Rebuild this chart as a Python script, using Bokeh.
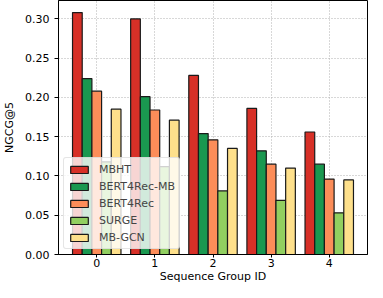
from bokeh.plotting import figure
from bokeh.models import ColumnDataSource, Range1d, Legend, LegendItem, FixedTicker, CustomJSTickFormatter
from bokeh.transform import dodge
from bokeh.embed import file_html
from bokeh.resources import INLINE

groups = [0, 1, 2, 3, 4]
series_names = ["MBHT", "BERT4Rec-MB", "BERT4Rec", "SURGE", "MB-GCN"]
mbht = [0.308, 0.300, 0.228, 0.186, 0.156]
bert4rec_mb = [0.224, 0.201, 0.154, 0.132, 0.115]
bert4rec = [0.208, 0.184, 0.146, 0.115, 0.096]
surge = [0.118, 0.112, 0.081, 0.069, 0.053]
mb_gcn = [0.185, 0.171, 0.135, 0.110, 0.095]
colors = ["#d73027", "#1a9850", "#fc8d59", "#91cf60", "#fee08b"]
y_ticks = [0.0, 0.05, 0.10, 0.15, 0.20, 0.25, 0.30]

src = ColumnDataSource(dict(g=groups, s0=mbht, s1=bert4rec_mb, s2=bert4rec, s3=surge, s4=mb_gcn))

p = figure(width=375, height=290, output_backend="svg", toolbar_location=None,
           x_range=Range1d(-0.658, 4.658), y_range=Range1d(0, 0.3234),
           min_border_left=49, min_border_right=8, min_border_top=0, min_border_bottom=36)

bw = 1 / 6
renderers = []
for i, (name, col) in enumerate(zip(series_names, colors)):
    r = p.vbar(x=dodge("g", (i - 2) * bw, range=p.x_range), top="s%d" % i, width=bw,
               source=src, fill_color=col, line_color="#1a1a1a", line_width=1.2)
    renderers.append(r)

p.xaxis.ticker = FixedTicker(ticks=groups)
p.yaxis.ticker = FixedTicker(ticks=y_ticks)
p.yaxis.formatter = CustomJSTickFormatter(code="return tick.toFixed(2);")

p.xaxis.axis_label = "Sequence Group ID"
p.yaxis.axis_label = "NGCG@5"
for ax in (p.xaxis, p.yaxis):
    ax.axis_label_text_font = "DejaVu Sans"
    ax.axis_label_text_font_size = "11px"
    ax.axis_label_text_font_style = "normal"
    ax.major_label_text_font = "DejaVu Sans"
    ax.major_label_text_font_size = "11px"
    ax.major_label_text_color = "black"
    ax.axis_label_text_color = "black"
    ax.minor_tick_line_color = None
    ax.major_tick_out = 4
    ax.major_tick_in = 0
    ax.axis_line_color = "black"
    ax.major_tick_line_color = "black"
p.xaxis.major_tick_out = 3
p.xaxis.major_label_standoff = 1
p.xaxis.axis_label_standoff = 0
p.yaxis.axis_label_standoff = 6

p.xgrid.ticker = FixedTicker(ticks=groups)
p.ygrid.ticker = FixedTicker(ticks=y_ticks)
for gr in (p.xgrid, p.ygrid):
    gr.grid_line_color = "#b0b0b0"
    gr.grid_line_dash = "1 2"
    gr.grid_line_width = 1

p.outline_line_color = "black"
p.outline_line_width = 1
p.background_fill_color = "white"
p.border_fill_color = "white"

legend = Legend(items=[LegendItem(label=n, renderers=[r]) for n, r in zip(series_names, renderers)],
                location=(5, 5), orientation="vertical")
legend.label_text_font = "DejaVu Sans"
legend.label_text_font_size = "11px"
legend.glyph_width = 22
legend.glyph_height = 9
legend.label_height = 14
legend.spacing = 3
legend.padding = 4
legend.margin = 0
legend.label_standoff = 9
legend.background_fill_alpha = 0.8
legend.border_line_color = "#cccccc"
legend.border_radius = 3
p.add_layout(legend, "center")

open("out.html", "w").write(file_html(p, INLINE))
